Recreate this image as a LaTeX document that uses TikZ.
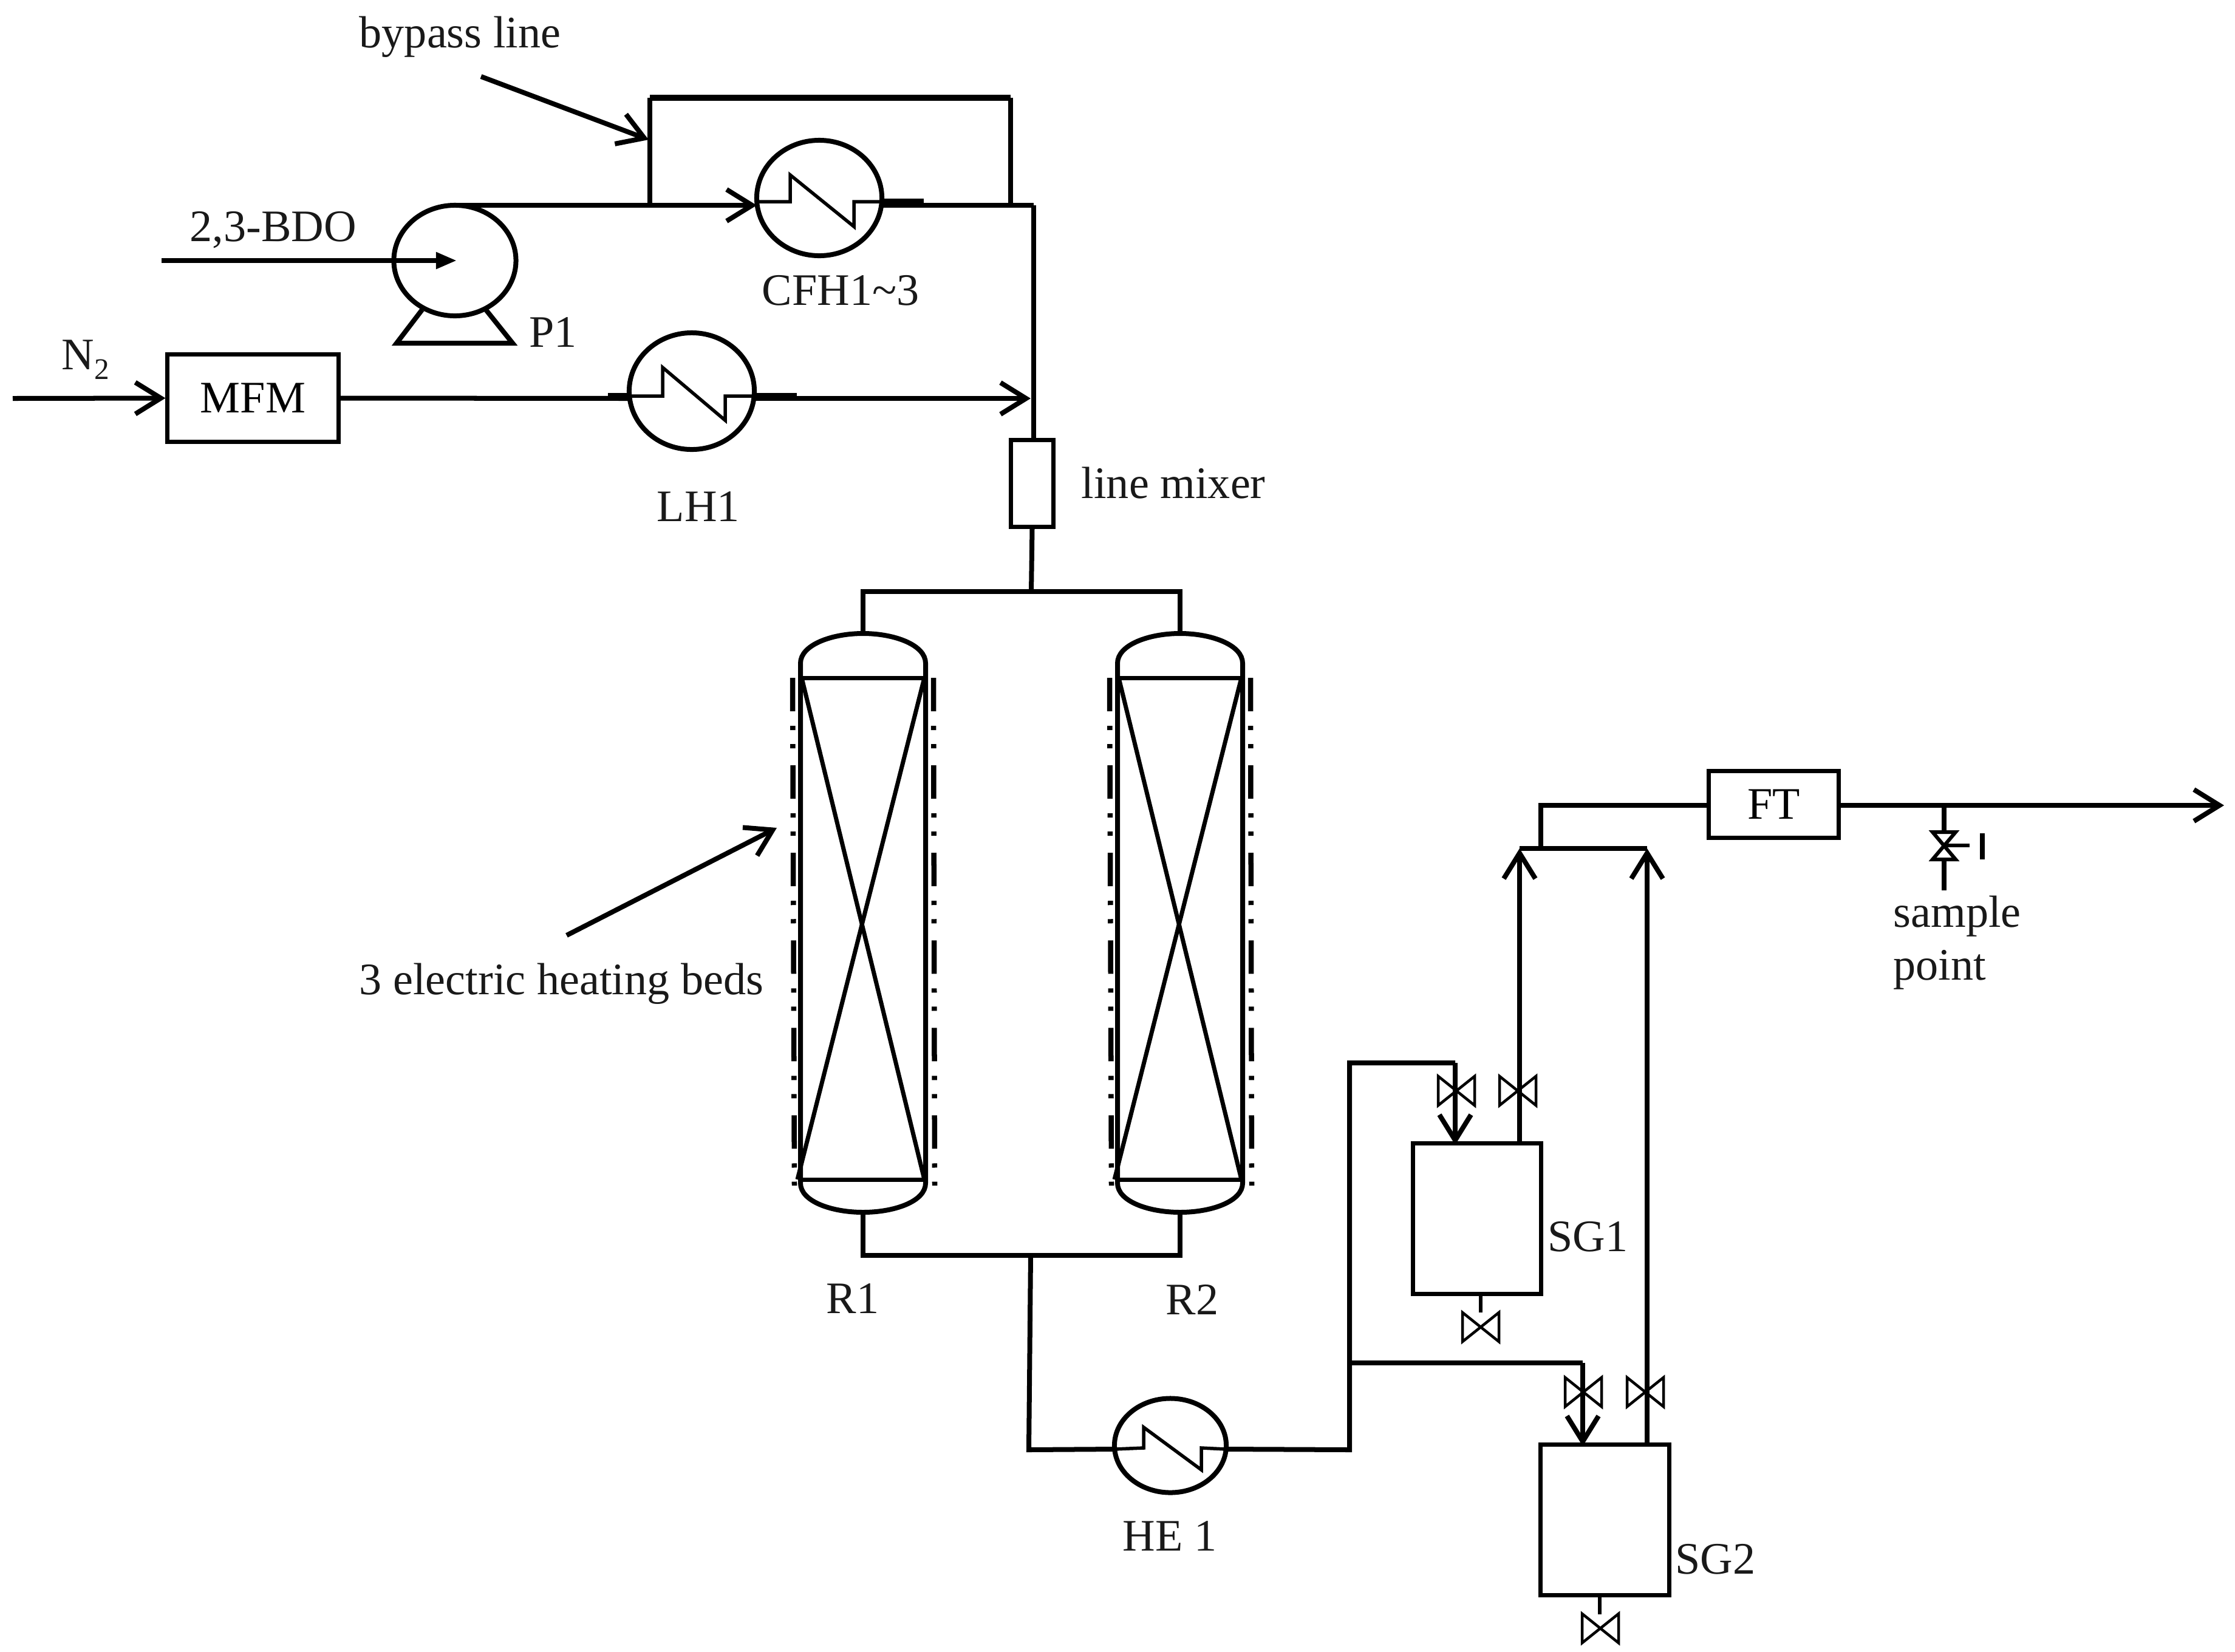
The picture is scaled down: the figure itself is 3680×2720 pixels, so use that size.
\documentclass[tikz,border=0pt]{standalone}
\usepackage{fontspec}
\setmainfont{Liberation Serif}
\usetikzlibrary{arrows.meta,shapes.geometric}
\tikzset{
  pipe/.style={line width=0.08cm,line cap=butt,line join=miter},
  heavy/.style={line width=0.095cm},
  inner/.style={line width=0.07cm},
  thin pipe/.style={line width=0.055cm},
  barb/.style={-{Straight Barb[length=0.42cm,width=0.52cm,line width=0.08cm]}},
  solidtip/.style={-{Triangle[length=0.34cm,width=0.26cm]}},
  box/.style={draw,line width=0.07cm,inner sep=0pt,rectangle},
  exch/.style={draw,line width=0.08cm,inner sep=0pt,ellipse},
  lbl/.style={inner sep=0pt,anchor=base west,font=\fontsize{21.1}{24.75}\selectfont,text=black!90},
  heater/.style={line width=0.085cm,dash pattern=on 0.55cm off 0.24cm on 0.07cm off 0.23cm on 0.07cm off 0.28cm},
  valve/.pic={\draw[line width=0.045cm] (-30,-24)--(30,24)--(30,-24)--(-30,24)--cycle;}
}
\newcommand{\reactorunit}[2]{%
  \coordinate (#1top) at (#2,1043);
  \coordinate (#1bot) at (#2,1996);
  \draw[pipe] ({#2-103},1948) -- ({#2-103},1092)
     .. controls ({#2-103},1062) and ({#2-52},1043) .. (#1top)
     .. controls ({#2+52},1043) and ({#2+103},1062) .. ({#2+103},1092)
     -- ({#2+103},1948)
     .. controls ({#2+103},1978) and ({#2+52},1996) .. (#1bot)
     .. controls ({#2-52},1996) and ({#2-103},1978) .. ({#2-103},1948);
  \draw[pipe,inner] ({#2-101},1116) -- ({#2+101},1116);
  \draw[pipe,inner] ({#2-101},1942) -- ({#2+101},1942);
  \draw[pipe,inner] ({#2-101},1116) -- ({#2+101},1942);
  \draw[pipe,inner] ({#2+101},1116) -- ({#2-108},1942);
  \draw[heater] ({#2-116},1116) -- ({#2-113},1952);
  \draw[heater] ({#2+116},1116) -- ({#2+118},1952);
}
\begin{document}
\begin{tikzpicture}[x=0.01cm,y=-0.01cm]
\useasboundingbox (0,0) rectangle (3680,2720);

% --- equipment ---
\node[exch,minimum width=2.01cm,minimum height=1.82cm] (pump) at (749,429) {};
\node[exch,minimum width=2.06cm,minimum height=1.90cm] (cfh) at (1349,326) {};
\node[exch,minimum width=2.06cm,minimum height=1.92cm] (lh) at (1139,644) {};
\node[exch,minimum width=1.84cm,minimum height=1.55cm] (he) at (1927,2380) {};
\node[box,minimum width=2.81cm,minimum height=1.43cm] (mfm) at (416.5,655.5) {\fontsize{21.1}{25}\selectfont MFM};
\node[box,minimum width=0.69cm,minimum height=1.42cm] (mixer) at (1699.5,796) {};
\node[box,minimum width=2.13cm,minimum height=1.09cm] (ft) at (2920.5,1324.5) {\fontsize{21.1}{25}\selectfont FT};
\node[box,minimum width=2.10cm,minimum height=2.47cm] (sg1) at (2432,2006.5) {};
\node[box,minimum width=2.11cm,minimum height=2.47cm] (sg2) at (2642.5,2502.5) {};

% pump base
\draw[pipe] (695,510) -- (653,565) -- (844,565) -- (800,510);

% --- exchanger internals ---
\coordinate (cfhin) at (1246,332);
\coordinate (cfhout) at (1452,332);
\draw[thin pipe] (cfhin) -- (1301,332) -- (1301,288) -- (1406,373) -- (1406,332) -- (cfhout);
\draw[pipe,heavy] (cfhout) -- (1521,332);
\coordinate (lhin) at (1036,652);
\coordinate (lhout) at (1242,652);
\draw[thin pipe] (lhin) -- (1091,652) -- (1091,605) -- (1194,692) -- (1194,652) -- (lhout);
\draw[pipe,heavy] (1001,652) -- (lhin);
\draw[pipe,heavy] (lhout) -- (1312,652);
\coordinate (hein) at (1835,2386);
\coordinate (heout) at (2019,2386);
\draw[thin pipe] (hein) -- (1883,2384) -- (1883,2350) -- (1978,2420) -- (1978,2384) -- (heout);

% --- reactors ---
\reactorunit{ra}{1421}
\reactorunit{rb}{1943}

% --- junctions ---
\coordinate (pumptop) at (746,338);
\coordinate (bypL) at (1070,338);
\coordinate (bypLt) at (1070,161);
\coordinate (bypRt) at (1664,161);
\coordinate (bypR) at (1664,338);
\coordinate (cfhinl) at (1246,338);
\coordinate (cfhoutl) at (1452,338);
\coordinate (corner) at (1702,338);
\coordinate (merge) at (1697,656);
\coordinate (hdrT) at (1698,974);
\coordinate (hdrTL) at (1421,974);
\coordinate (hdrTR) at (1943,974);
\coordinate (hdrB) at (1697,2067);
\coordinate (hdrBL) at (1421,2067);
\coordinate (hdrBR) at (1943,2067);
\coordinate (heL) at (1694,2387);
\coordinate (heR) at (2222,2387);
\coordinate (splitA) at (2222,1750);
\coordinate (splitB) at (2222,2244);
\coordinate (sg1in) at (2396,1750);
\coordinate (sg1tip) at (2396,1885);
\coordinate (sg2in) at (2606,2244);
\coordinate (sg2tip) at (2606,2381);
\coordinate (sg1out) at (2502,1885);
\coordinate (sg2out) at (2712,2381);
\coordinate (col1) at (2502,1397);
\coordinate (col2) at (2712,1397);
\coordinate (outv) at (2537,1397);
\coordinate (outc) at (2537,1326);
\coordinate (tap) at (3201,1326);
\coordinate (endp) at (3662,1326);
\coordinate (bdostart) at (266,429);
\coordinate (pumpc) at (752,429);
\coordinate (n2start) at (21,656);
\coordinate (byparrowS) at (792,126);
\coordinate (byparrowE) at (1068,230);
\coordinate (hbarrowS) at (933,1540);
\coordinate (hbarrowE) at (1279,1363);
\coordinate (vs) at (3201,1370);
\coordinate (ve) at (3201,1415);
\coordinate (vl) at (3201,1466);
\coordinate (vc) at (3201,1392);
\coordinate (vh) at (3243,1392);
\coordinate (d1a) at (2438,2130);
\coordinate (d1b) at (2438,2161);
\coordinate (d2a) at (2634,2626);
\coordinate (d2b) at (2634,2658);

% --- connectors ---
\draw[pipe,solidtip] (bdostart) -- (pumpc);
\draw[pipe,barb] (pumptop) -- (cfhinl);
\draw[pipe] (bypL) -- (bypLt);
\draw[pipe,heavy] (bypLt) -- (bypRt);
\draw[pipe] (bypRt) -- (bypR);
\draw[pipe] (cfhoutl) -- (corner);
\draw[pipe] (corner) -- (corner |- mixer.north);
\draw[pipe,barb] (n2start) -- (mfm.west);
\draw[pipe] (mfm.east) -- (1036,656);
\draw[pipe,barb] (lhout |- merge) -- (merge);
\draw[pipe] (mixer.south) -- (hdrT);
\draw[pipe] (ratop) -- (hdrTL) -- (hdrTR) -- (rbtop);
\draw[pipe] (rabot) -- (hdrBL) -- (hdrBR) -- (rbbot);
\draw[pipe] (hdrB) -- (heL) -- (hein);
\draw[pipe] (heout) -- (heR) -- (splitA) -- (sg1in);
\draw[pipe,barb] (sg1in) -- (sg1tip);
\draw[pipe] (splitB) -- (sg2in);
\draw[pipe,barb] (sg2in) -- (sg2tip);
\draw[pipe,barb] (sg1out) -- (col1);
\draw[pipe,barb] (sg2out) -- (col2);
\draw[pipe] (col1) -- (col2);
\draw[pipe] (outv) -- (outc) -- (ft.west |- outc);
\draw[pipe,barb] (ft.east |- endp) -- (endp);
\draw[pipe] (tap) -- (vs);
\draw[pipe] (ve) -- (vl);
\draw[pipe,line width=0.06cm] (vc) -- (vh);
\draw[thin pipe] (d1a) -- (d1b);
\draw[thin pipe] (d2a) -- (d2b);
\draw[pipe,barb] (byparrowS) -- (byparrowE);
\draw[pipe,barb] (hbarrowS) -- (hbarrowE);

% sample valve
\draw[pipe,line width=0.06cm] (3182,1370) -- (3220,1370) -- (3182,1415) -- (3220,1415) -- cycle;
\draw[pipe] (3264,1372) -- (3264,1415);

% valves
\pic at (2398,1796) {valve};
\pic at (2499,1796) {valve};
\pic at (2438,2185) {valve};
\pic at (2607,2292) {valve};
\pic at (2709,2292) {valve};
\pic at (2635,2681) {valve};

% --- labels ---
\node[lbl] (tbyp) at (591,78) {bypass line};
\node[lbl] (tbdo) at (312,397) {2,3-BDO};
\node[lbl] (tcfh) at (1254,502) {CFH1\textasciitilde 3};
\node[lbl] (tp) at (871,571) {P1};
\node[lbl] (tn) at (101,608) {N\raisebox{-0.22em}{\fontsize{14}{14}\selectfont 2}};
\node[lbl] (tlh) at (1081,858) {LH1};
\node[lbl] (tmix) at (1780,820) {line mixer};
\node[lbl] (theat) at (591,1637) {3 electric heating beds};
\node[lbl] (tr1) at (1360,2162) {R1};
\node[lbl] (tr2) at (1919,2164) {R2};
\node[lbl] (the) at (1848,2553) {HE 1};
\node[lbl] (tsg1) at (2548,2060) {SG1};
\node[lbl] (tsg2) at (2758,2591) {SG2};
\node[lbl,anchor=north west,align=left] (tsp) at (3117,1474) {sample\\point};
\end{tikzpicture}
\end{document}
